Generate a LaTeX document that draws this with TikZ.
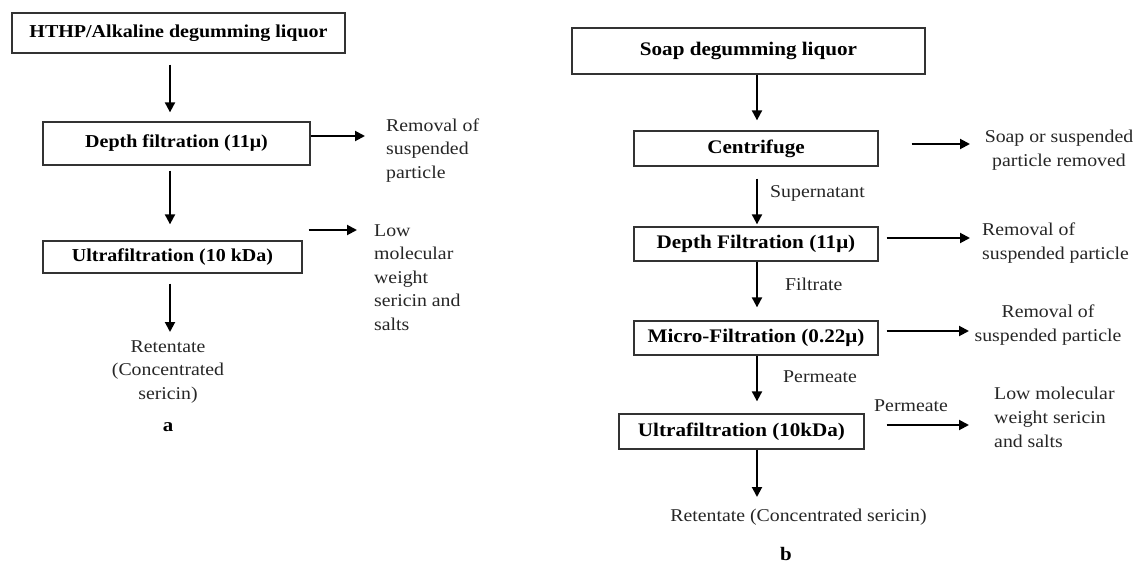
\documentclass[tikz,border=0pt]{standalone}
\usepackage{fontspec}
\setmainfont{Liberation Serif}[FakeStretch=1.1]
\usetikzlibrary{arrows.meta,calc}
\tikzset{
  box/.style={draw=black!80, line width=1.3pt, inner sep=0pt, font=\bfseries\fontsize{18.2}{22}\selectfont},
  boxr/.style={box, font=\bfseries\fontsize{19.2}{22}\selectfont},
  lbl/.style={inner sep=0pt, text=black!85, font=\fontsize{18}{23.5}\selectfont},
  lblr/.style={inner sep=0pt, text=black!85, font=\fontsize{18}{24}\selectfont},
  tag/.style={inner sep=0pt, font=\bfseries\fontsize{19}{22}\selectfont},
  arr/.style={line width=2pt, -{Triangle[length=10pt,width=10pt]}}
}
\begin{document}
\begin{tikzpicture}[x=1pt,y=-1pt]
\useasboundingbox[fill=white] (0,0) rectangle (1136,562);
% ---- panel a ----
\node[box, minimum width=333pt, minimum height=40pt] (a1) at (178.5,33) {HTHP/Alkaline degumming liquor};
\node[box, minimum width=267pt, minimum height=43pt] (a2) at (176.5,143.5) {Depth filtration (11μ)};
\node[box, minimum width=259pt, minimum height=32pt] (a3) at (172.5,257) {Ultrafiltration (10 kDa)};
\node[lbl, anchor=north west, align=left] (rem1) at (386,117) {\rule{0pt}{14pt}Removal of\\suspended\\particle};
\node[lbl, anchor=north west, align=left] (low1) at (374,222) {\rule{0pt}{14pt}Low\\molecular\\weight\\sericin and\\salts};
\node[lbl, anchor=north, align=center] (ret1) at (168,338) {\rule{0pt}{14pt}Retentate\\(Concentrated\\sericin)};
\node[tag, anchor=base] (la) at (168,431) {a};
\draw[arr] ($(a1.south)+(-8.5,11)$) -- ($(a2.north)+(-6.5,-9)$);
\draw[arr] ($(a2.east)+(0,-7.5)$) -- ($(rem1.north west)+(-21,19)$);
\draw[arr] ($(a2.south)+(-6.5,5)$) -- ($(a3.north)+(-2.5,-16)$);
\draw[arr] ($(a3.east)+(6,-27)$) -- ($(low1.north west)+(-17,8)$);
\draw[arr] ($(a3.south)+(-2.5,10)$) -- ($(ret1.north)+(2,-6)$);
% ---- panel b ----
\node[boxr, minimum width=353pt, minimum height=46pt] (b1) at (748.5,51) {Soap degumming liquor};
\node[boxr, minimum width=244pt, minimum height=35pt] (b2) at (756,148.5) {Centrifuge};
\node[boxr, minimum width=244pt, minimum height=34pt] (b3) at (756,244) {Depth Filtration (11μ)};
\node[boxr, minimum width=244pt, minimum height=34pt] (b4) at (756,338) {Micro-Filtration (0.22μ)};
\node[boxr, minimum width=245pt, minimum height=35pt] (b5) at (741.5,431.5) {Ultrafiltration (10kDa)};
\node[lblr, anchor=north, align=center] (soapr) at (1059,128) {\rule{0pt}{14pt}Soap or suspended\\particle removed};
\node[lblr, anchor=north west, align=left] (rem2) at (982,221) {\rule{0pt}{14pt}Removal of\\suspended particle};
\node[lblr, anchor=north, align=center] (rem3) at (1048,303) {\rule{0pt}{14pt}Removal of\\suspended particle};
\node[lblr, anchor=north west, align=left] (low2) at (994,385) {\rule{0pt}{14pt}Low molecular\\weight sericin\\and salts};
\node[lblr, anchor=base west] (sup) at (770,197) {Supernatant};
\node[lblr, anchor=base west] (fil) at (785,290) {Filtrate};
\node[lblr, anchor=base west] (per1) at (783,382) {Permeate};
\node[lblr, anchor=base west] (per2) at (874,411) {Permeate};
\node[lblr, anchor=base] (ret2) at (798.5,521) {Retentate (Concentrated sericin)};
\node[tag, anchor=base] (lb) at (786,560) {b};
\draw[arr] ($(b1.south)+(8.5,0)$) -- ($(b2.north)+(1,-10)$);
\draw[arr] ($(b2.east)+(33,-4.5)$) -- ($(soapr.north)+(-89,16)$);
\draw[arr] ($(b2.south)+(1,12)$) -- ($(b3.north)+(1,-2)$);
\draw[arr] ($(b3.east)+(8,-6)$) -- ($(rem2.north west)+(-12,17)$);
\draw[arr] ($(b3.south)+(1,0)$) -- ($(b4.north)+(1,-13)$);
\draw[arr] ($(b4.east)+(8,-7)$) -- ($(rem3.north)+(-79,28)$);
\draw[arr] ($(b4.south)+(1,0)$) -- ($(b5.north)+(15.5,-12)$);
\draw[arr] ($(b5.east)+(22,-6.5)$) -- ($(low2.north west)+(-25,40)$);
\draw[arr] ($(b5.south)+(15.5,0)$) -- ($(ret2.base)+(-41.5,-24)$);
\end{tikzpicture}
\end{document}
